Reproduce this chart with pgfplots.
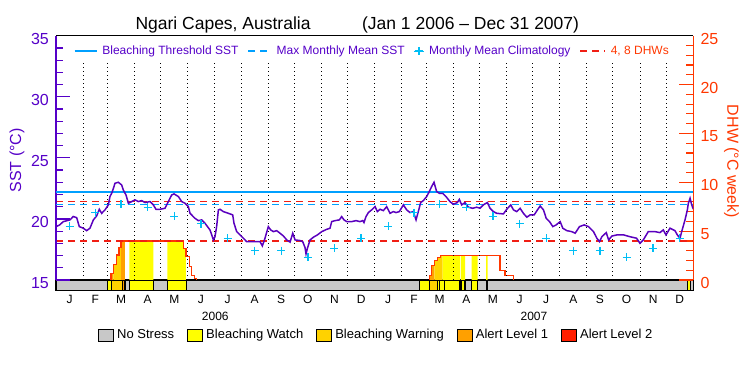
\documentclass[border=0pt]{standalone}
\usepackage{fontspec}
\setmainfont{Liberation Sans}
\usepackage{pgfplots}
\pgfplotsset{compat=1.18}
\usepackage{pgfplotstable}
\definecolor{purp}{RGB}{85,0,200}
\definecolor{sstline}{RGB}{90,0,190}
\definecolor{lblue}{RGB}{0,160,255}
\definecolor{cblue}{RGB}{0,190,245}
\definecolor{dhwred}{RGB}{255,55,0}
\definecolor{dashred}{RGB}{240,30,20}
\definecolor{nostress}{RGB}{200,200,200}
\definecolor{watch}{RGB}{255,255,0}
\definecolor{warning}{RGB}{255,210,0}
\definecolor{alertone}{RGB}{255,160,0}
\definecolor{alerttwo}{RGB}{255,30,0}

\pgfplotsset{
  lineleg/.style={legend image code/.code={\draw[##1] (0bp,0bp) -- (#1,0bp);}},
  crossleg/.style={legend image code/.code={\path (0bp,0bp) -- (10bp,0bp); \draw[##1] plot coordinates {(5bp,0bp)};}},
  boxleg/.style={legend image code/.code={\draw[##1] (0bp,-6bp) rectangle (15bp,6bp);}},
}

\pgfplotstableread{
day sst
0 19.37
4 19.5
8.4 19.78
16 19.92
19.8 20.2
23.7 20.1
26.7 19.37
31.3 19.24
35.1 19.04
38.9 19.24
42.8 19.92
46.6 20.25
49.6 20.79
52.3 20.46
56.1 20.74
60 21.15
61.8 21.83
63.8 22.1
65.7 22.5
67.6 22.92
71.4 23.0
75.2 22.78
77.1 22.37
80.2 21.96
82.9 21.28
86.7 21.42
90.5 21.56
94.3 21.42
98.1 21.5
102 21.34
107.7 21.42
111.5 21.15
114.5 20.79
119.1 20.79
124.8 20.87
128.7 21.42
132.5 21.96
135.2 22.05
140.2 21.83
144 21.42
147.8 21.28
151.6 21.01
153.5 20.46
159.2 20.05
163.1 19.86
166.9 19.92
170.7 19.64
176.4 19.1
180.3 18.28
182.1 18.55
184 19.37
186 20.74
187.9 20.79
191.7 20.6
197.4 20.46
202.4 20.33
203.9 19.64
207 18.96
210.8 18.69
214.6 18.42
218.4 18.14
226.1 18.14
233.7 18.14
236.4 17.79
239.4 18.42
243.2 19.37
245.9 19.1
249 18.96
252.8 19.04
256.6 18.83
260.5 18.6
264.3 18.28
268.1 18.1
271.2 18.83
273.8 18.28
279.5 18.23
282.6 18.14
285.2 17.67
286.4 17.13
288 17.6
291 18.28
294.8 18.5
299.4 18.69
304.4 18.96
310.1 19.15
313.9 19.24
315.8 19.78
319.6 19.86
324.6 19.92
327.2 20.19
329.9 19.92
333 19.78
338.7 19.78
343.7 19.86
348.2 19.78
351.3 19.86
352.8 19.7
355.1 20.19
357.8 20.52
361.6 20.74
365.5 21.01
368.1 20.6
371.2 20.79
375 20.68
378.8 21.01
382.6 20.46
386.4 20.6
389.5 20.52
393.3 20.6
397.9 21.15
401.7 20.74
405.5 20.52
409.3 20.6
412.4 19.92
415 20.6
417.7 21.34
420.8 21.5
424.6 21.83
427.6 22.24
430.3 22.65
433 23.0
436 22.24
439.1 22.1
442.9 22.1
446.7 21.83
451.3 21.42
455.1 21.2
459.7 21.34
462 21.6
464.7 21.15
468.5 21.34
472.3 20.96
477.3 20.87
481.9 20.96
485.7 20.87
489.5 21.15
494.1 21.34
497.2 20.87
501 20.6
504.8 20.46
512.5 20.41
516.3 20.79
520.9 21.15
524 20.74
527.8 20.6
531.6 20.87
535.4 20.46
539.3 20.14
543.1 20.33
547.7 20.33
551.5 20.74
554.6 21.06
558.4 20.74
561.5 20.05
565.3 19.78
569.1 19.37
572.9 19.51
577.5 19.78
580.5 19.24
585.1 19.04
590.8 18.96
594.7 18.83
599.6 19.37
605 19.51
610 19.37
615.7 18.96
619.5 18.42
622.6 18.14
625.3 18.55
630.3 18.88
633 18.28
636.8 18.6
642.5 18.69
650.2 18.69
657.1 18.55
665 18.42
668.9 18.01
672.7 18.28
678.4 18.96
686.1 18.96
691.8 18.88
695.6 19.1
698.7 18.69
703.3 19.24
709 19.04
711.7 18.69
714.8 18.42
716.7 18.96
720.5 19.92
723.2 20.74
724.3 21.28
726.3 21.69
728.2 21.15
730 20.8
}\sstdata

\pgfplotstableread{
day clim
15.5 19.4
45 20.5
74.5 21.2
105 20.96
135.5 20.2
166 19.6
196.5 18.4
227.5 17.4
258 17.4
288.5 16.86
319 17.6
349.5 18.4
380.5 19.4
410 20.5
439.5 21.2
470 20.96
500.5 20.2
531 19.6
561.5 18.4
592.5 17.4
623 17.4
653.5 16.86
684 17.6
714.5 18.4
}\climdata

\newcommand{\seg}[3]{\addplot[fill=#3, draw=black, line width=1.1bp, forget plot] coordinates {(#1,0) (#1,1) (#2,1) (#2,0)} --cycle;}
\newcommand{\fsz}[1]{\fontsize{#1bp}{#1bp}\selectfont}

\begin{document}
\begin{tikzpicture}
\useasboundingbox (0,0) rectangle (750bp,375bp);

% Title
\node[anchor=base west, inner sep=0pt, font=\fsz{17.5}] at (135.3bp,345.7bp) {Ngari Capes, Australia};
\node[anchor=base west, inner sep=0pt, font=\fsz{17.5}] at (361.9bp,345.7bp) {(Jan 1 2006 -- Dec 31 2007)};

% Stress bar axis
\begin{axis}[
  at={(56bp,84.3bp)}, anchor=south west, scale only axis,
  width=637.3bp, height=10.7bp,
  xmin=0, xmax=730, ymin=0, ymax=1,
  ytick=\empty,
  xtick={15.5,45,74.5,105,135.5,166,196.5,227.5,258,288.5,319,349.5,380.5,410,439.5,470,500.5,531,561.5,592.5,623,653.5,684,714.5},
  xticklabels={J,F,M,A,M,J,J,A,S,O,N,D,J,F,M,A,M,J,J,A,S,O,N,D},
  major tick length=0pt,
  xticklabel style={font=\fsz{12}, inner sep=0pt, yshift=-4bp, anchor=north},
  extra x ticks={182.5,547.5},
  extra x tick labels={2006,2007},
  extra x tick style={tick label style={font=\fsz{13.5}, yshift=-17bp}},
  axis line style={black, line width=1.3bp},
  legend style={at={(axis description cs:0.5026,-4.14)}, anchor=center, draw=none, fill=none,
    font=\fsz{13}, legend columns=-1,
    /tikz/every odd column/.append style={column sep=1bp},
    /tikz/every even column/.append style={column sep=11bp}},
]
\seg{0}{58.8}{nostress}
\seg{58.8}{63.8}{watch}
\seg{63.8}{76.4}{warning}
\seg{76.4}{79}{alertone}
\seg{79}{84}{nostress}
\seg{84}{111.5}{watch}
\seg{111.5}{127.5}{nostress}
\seg{127.5}{149.7}{watch}
\seg{149.7}{416.3}{nostress}
\seg{416.3}{427.8}{watch}
\seg{427.8}{437}{warning}
\seg{437}{439.1}{watch}
\seg{439.1}{444.8}{watch}
\seg{444.8}{462.8}{watch}
\seg{462.8}{464.7}{watch}
\seg{464.7}{468.5}{watch}
\seg{468.5}{476.1}{nostress}
\seg{476.1}{483}{watch}
\seg{483}{492.6}{nostress}
\seg{492.6}{494.3}{watch}
\seg{494.3}{723}{nostress}
\seg{723}{727}{watch}
\seg{727}{730}{nostress}
\addlegendimage{boxleg, fill=nostress, draw=black, line width=1bp}
\addlegendentry{No Stress}
\addlegendimage{boxleg, fill=watch, draw=black, line width=1bp}
\addlegendentry{Bleaching Watch}
\addlegendimage{boxleg, fill=warning, draw=black, line width=1bp}
\addlegendentry{Bleaching Warning}
\addlegendimage{boxleg, fill=alertone, draw=black, line width=1bp}
\addlegendentry{Alert Level 1}
\addlegendimage{boxleg, fill=alerttwo, draw=black, line width=1bp}
\addlegendentry{Alert Level 2}
\end{axis}

% DHW axis (right)
\begin{axis}[
  at={(56bp,95bp)}, anchor=south west, scale only axis,
  width=637.3bp, height=244.3bp,
  xmin=0, xmax=730, ymin=0, ymax=25,
  axis x line=none, axis y line*=right,
  axis line style={-},
  y axis line style={dhwred, line width=1.3bp},
  tick align=inside,
  ytick={0,5,10,15,20,25}, minor y tick num=4,
  major tick length=14bp, minor tick length=7bp,
  tick style={dhwred, line width=1.2bp},
  /pgf/number format/assume math mode=true,
  yticklabel style={font=\fsz{16}, text=dhwred, inner sep=0pt, anchor=west, xshift=7bp, yshift=-3bp},
  ylabel={DHW (°C week)},
  ylabel style={font=\fsz{16}, text=dhwred, at={(axis description cs:1.06,0.485)}, anchor=center, rotate=180},
  legend style={at={(axis description cs:0.4965,0.9374)}, anchor=center, draw=none, fill=none,
    font=\fsz{12}, text=purp, legend columns=-1,
    /tikz/every odd column/.append style={column sep=3bp},
    /tikz/every even column/.append style={column sep=7bp}},
]
% DHW fills
\addplot[fill=alertone, draw=none, const plot, forget plot] coordinates {(63,0.7) (65.7,0.7)} \closedcycle;
\addplot[fill=warning, draw=none, const plot, forget plot] coordinates {(65.7,1.6) (69.5,2.56) (72.2,3.35) (74.5,3.35)} \closedcycle;
\addplot[fill=alertone, draw=none, const plot, forget plot] coordinates {(74.5,4) (79,4)} \closedcycle;
\addplot[fill=watch, draw=none, const plot, forget plot] coordinates {(84,4) (111.5,4)} \closedcycle;
\addplot[fill=watch, draw=none, const plot, forget plot] coordinates {(127.5,4) (145.8,3.2) (148.9,3.2)} \closedcycle;
\addplot[fill=alertone, draw=none, const plot, forget plot] coordinates {(427.6,0.5) (430.3,1.5) (433.4,1.5)} \closedcycle;
\addplot[fill=warning, draw=none, const plot, forget plot] coordinates {(433.4,2.0) (436.8,2.3) (440.6,2.5) (443,2.5)} \closedcycle;
\addplot[fill=watch, draw=none, const plot, forget plot] coordinates {(443,2.5) (462.8,2.5)} \closedcycle;
\addplot[fill=watch, draw=none, const plot, forget plot] coordinates {(463.9,2.5) (468.5,2.5)} \closedcycle;
\addplot[fill=watch, draw=none, const plot, forget plot] coordinates {(476.1,2.5) (483,2.5)} \closedcycle;
\addplot[fill=watch, draw=none, const plot, forget plot] coordinates {(492.6,2.5) (494.3,2.5)} \closedcycle;
% DHW step lines
\addplot[dhwred, line width=1.2bp, const plot, forget plot] coordinates {(63,0) (63,0.7) (65.7,1.6) (69.5,2.56) (72.2,3.35) (74.5,4) (145.8,3.2) (148.9,2.4) (152.7,1.36) (155.4,0.5) (158.4,0.17) (161.2,0)};
\addplot[dhwred, line width=1.2bp, const plot, forget plot] coordinates {(427.6,0) (427.6,0.5) (430.3,1.5) (433.4,2.0) (436.8,2.3) (440.6,2.5) (508.6,1.0) (514.3,0.5) (523.8,0)};
% legend images
\addlegendimage{lineleg=22bp, lblue, line width=1.3bp}
\addlegendentry{Bleaching Threshold SST}
\addlegendimage{lineleg=23bp, lblue, line width=1.3bp, dash pattern=on 7bp off 5bp}
\addlegendentry{Max Monthly Mean SST}
\addlegendimage{crossleg, cblue, only marks, mark=+, mark size=4bp, mark options={line width=1.3bp}}
\addlegendentry{Monthly Mean Climatology}
% 4 and 8 DHW lines
\addplot[lineleg=25bp, dashred, line width=1.3bp, dash pattern=on 7bp off 5bp] coordinates {(0,4) (730,4)};
\addlegendentry{\textcolor{dhwred}{4, 8 DHWs}}
\addplot[dashred, line width=1.3bp, dash pattern=on 7bp off 5bp, forget plot] coordinates {(0,8) (730,8)};
\end{axis}

% SST axis (left)
\begin{axis}[
  at={(56bp,95bp)}, anchor=south west, scale only axis,
  width=637.3bp, height=244.3bp,
  xmin=0, xmax=730, ymin=15, ymax=35,
  axis x line*=top, axis y line*=left,
  axis line style={-},
  x axis line style={black, line width=1.3bp},
  y axis line style={purp, line width=1.3bp},
  xtick=\empty,
  tick align=inside,
  ytick={15,20,25,30,35}, minor y tick num=4,
  major tick length=14bp, minor tick length=7bp,
  tick style={purp, line width=1.2bp},
  /pgf/number format/assume math mode=true,
  yticklabel style={font=\fsz{16}, text=purp, inner sep=0pt, anchor=east, xshift=-7bp, yshift=-3bp},
  ylabel={SST (°C)},
  ylabel style={font=\fsz{16}, text=purp, at={(axis description cs:-0.0612,0.49)}, anchor=center},
]
\pgfplotsinvokeforeach{31,59,90,120,151,181,212,243,273,304,334,365,396,424,455,485,516,546,577,608,638,669,699}{
  \addplot[black, line width=1bp, dash pattern=on 1bp off 3bp, forget plot] coordinates {(#1,15) (#1,32.8)};
}
\addplot[lblue, line width=1.3bp] coordinates {(0,22.2) (730,22.2)};
\addplot[lblue, line width=1.3bp, dash pattern=on 7bp off 5bp] coordinates {(0,21.2) (730,21.2)};
\addplot[cblue, only marks, mark=+, mark size=4bp, mark options={line width=1.3bp}] table[x=day, y=clim] {\climdata};
\addplot[sstline, line width=1.5bp] table[x=day, y=sst] {\sstdata};
\end{axis}
\end{tikzpicture}
\end{document}
